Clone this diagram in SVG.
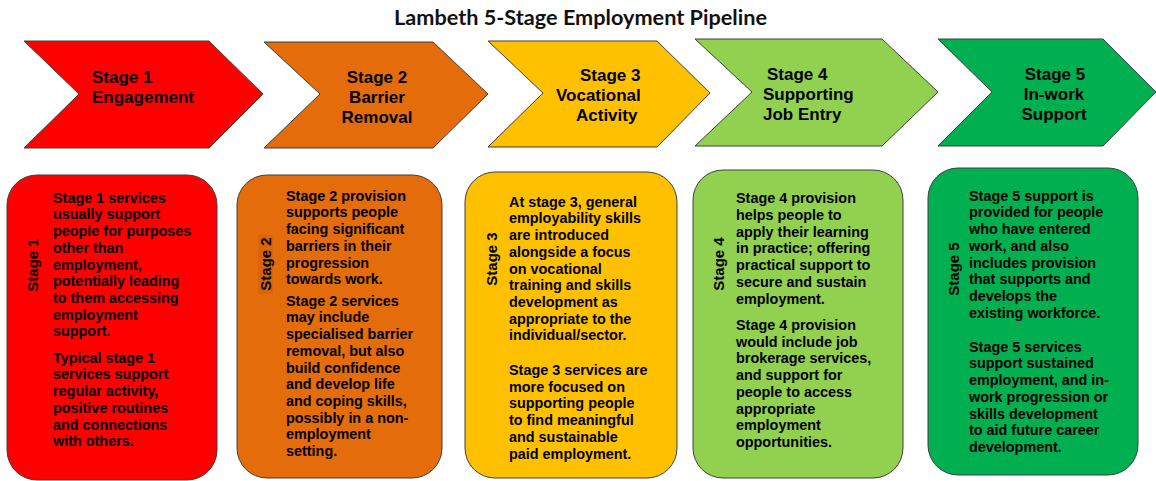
<svg xmlns="http://www.w3.org/2000/svg" width="1156" height="481" viewBox="0 0 1156 481">
  <style>
    .title { font-family: Lato, "Open Sans", "Liberation Sans", sans-serif; font-weight: 700; font-size: 20px; fill: #111; }
    .chev { stroke: #3f3f3f; stroke-width: 1; }
    .box { stroke: #3f3f3f; stroke-width: 1; }
    .head { font-family: "Liberation Sans", Arial, sans-serif; font-weight: 700; font-size: 17px; fill: #000; }
    .side { font-family: "Liberation Sans", Arial, sans-serif; font-weight: 700; font-size: 15px; fill: #000; }
    .body { font-family: "Liberation Sans", Arial, sans-serif; font-weight: 700; font-size: 14.4px; fill: #000; }
    .s1 { fill: #ff0000; }
    .s2 { fill: #e46c0a; }
    .s3 { fill: #ffc000; }
    .s4 { fill: #92d050; }
    .s5 { fill: #00b050; }
  </style>

  <text class="title" x="394" y="25" textLength="373" lengthAdjust="spacingAndGlyphs">Lambeth 5-Stage Employment Pipeline</text>

  <!-- pipeline chevrons -->
  <g id="chevron-1">
    <polygon class="chev s1" points="24,41 209,41 263,94 209,148 24,148 79,94"/>
    <text class="head" x="92" y="83">Stage 1</text>
    <text class="head" x="92" y="103">Engagement</text>
  </g>
  <g id="chevron-2">
    <polygon class="chev s2" points="264,42 433,42 488,94 433,148 264,148 320,94"/>
    <text class="head" x="377" y="83" text-anchor="middle">Stage 2</text>
    <text class="head" x="377" y="103" text-anchor="middle">Barrier</text>
    <text class="head" x="377" y="123" text-anchor="middle">Removal</text>
  </g>
  <g id="chevron-3">
    <polygon class="chev s3" points="488,41 657,41 710,93 657,147 488,147 543,93"/>
    <text class="head" x="580" y="81">Stage 3</text>
    <text class="head" x="556" y="101">Vocational</text>
    <text class="head" x="576" y="121">Activity</text>
  </g>
  <g id="chevron-4">
    <polygon class="chev s4" points="695,39 882,39 938,92 882,146 695,146 752,92"/>
    <text class="head" x="767" y="80">Stage 4</text>
    <text class="head" x="763" y="100">Supporting</text>
    <text class="head" x="763" y="120">Job Entry</text>
  </g>
  <g id="chevron-5">
    <polygon class="chev s5" points="938,39 1103,39 1156,92 1103,146 938,146 992,92"/>
    <text class="head" x="1055" y="80" text-anchor="middle">Stage 5</text>
    <text class="head" x="1054" y="100" text-anchor="middle">In-work</text>
    <text class="head" x="1054" y="120" text-anchor="middle">Support</text>
  </g>

  <!-- stage description cards -->
  <g id="card-1">
    <rect class="box s1" x="7" y="175" width="210" height="305" rx="30" ry="30"/>
    <text class="side" transform="translate(38,265) rotate(-90)" text-anchor="middle">Stage 1</text>
    <text class="body" x="53" y="202.7">
      <tspan x="53">Stage 1 services</tspan>
      <tspan x="53" dy="16.7">usually support</tspan>
      <tspan x="53" dy="16.7">people for purposes</tspan>
      <tspan x="53" dy="16.7">other than</tspan>
      <tspan x="53" dy="16.7">employment,</tspan>
      <tspan x="53" dy="16.7">potentially leading</tspan>
      <tspan x="53" dy="16.7">to them accessing</tspan>
      <tspan x="53" dy="16.7">employment</tspan>
      <tspan x="53" dy="16.7">support.</tspan>
    </text>
    <text class="body" x="53" y="362.7">
      <tspan x="53">Typical stage 1</tspan>
      <tspan x="53" dy="16.7">services support</tspan>
      <tspan x="53" dy="16.7">regular activity,</tspan>
      <tspan x="53" dy="16.7">positive routines</tspan>
      <tspan x="53" dy="16.7">and connections</tspan>
      <tspan x="53" dy="16.7">with others.</tspan>
    </text>
  </g>

  <g id="card-2">
    <rect class="box s2" x="237" y="175" width="205" height="303" rx="30" ry="30"/>
    <rect x="258" y="235" width="15" height="59" fill="#d9640a"/>
    <text class="side" transform="translate(271,264) rotate(-90)" text-anchor="middle">Stage 2</text>
    <text class="body" x="286" y="200.7">
      <tspan x="286">Stage 2 provision</tspan>
      <tspan x="286" dy="16.7">supports people</tspan>
      <tspan x="286" dy="16.7">facing significant</tspan>
      <tspan x="286" dy="16.7">barriers in their</tspan>
      <tspan x="286" dy="16.7">progression</tspan>
      <tspan x="286" dy="16.7">towards work.</tspan>
    </text>
    <text class="body" x="286" y="305.7">
      <tspan x="286">Stage 2 services</tspan>
      <tspan x="286" dy="16.7">may include</tspan>
      <tspan x="286" dy="16.7">specialised barrier</tspan>
      <tspan x="286" dy="16.7">removal, but also</tspan>
      <tspan x="286" dy="16.7">build confidence</tspan>
      <tspan x="286" dy="16.7">and develop life</tspan>
      <tspan x="286" dy="16.7">and coping skills,</tspan>
      <tspan x="286" dy="16.7">possibly in a non-</tspan>
      <tspan x="286" dy="16.7">employment</tspan>
      <tspan x="286" dy="16.7">setting.</tspan>
    </text>
  </g>

  <g id="card-3">
    <rect class="box s3" x="465" y="172" width="212" height="306" rx="30" ry="30"/>
    <text class="side" transform="translate(497,259) rotate(-90)" text-anchor="middle">Stage 3</text>
    <text class="body" x="509" y="206.7">
      <tspan x="509">At stage 3, general</tspan>
      <tspan x="509" dy="16.7">employability skills</tspan>
      <tspan x="509" dy="16.7">are introduced</tspan>
      <tspan x="509" dy="16.7">alongside a focus</tspan>
      <tspan x="509" dy="16.7">on vocational</tspan>
      <tspan x="509" dy="16.7">training and skills</tspan>
      <tspan x="509" dy="16.7">development as</tspan>
      <tspan x="509" dy="16.7">appropriate to the</tspan>
      <tspan x="509" dy="16.7">individual/sector.</tspan>
    </text>
    <text class="body" x="509" y="375">
      <tspan x="509">Stage 3 services are</tspan>
      <tspan x="509" dy="16.7">more focused on</tspan>
      <tspan x="509" dy="16.7">supporting people</tspan>
      <tspan x="509" dy="16.7">to find meaningful</tspan>
      <tspan x="509" dy="16.7">and sustainable</tspan>
      <tspan x="509" dy="16.7">paid employment.</tspan>
    </text>
  </g>

  <g id="card-4">
    <rect class="box s4" x="693" y="170" width="210" height="308" rx="30" ry="30"/>
    <text class="side" transform="translate(724,264) rotate(-90)" text-anchor="middle">Stage 4</text>
    <text class="body" x="736" y="203.3">
      <tspan x="736">Stage 4 provision</tspan>
      <tspan x="736" dy="16.7">helps people to</tspan>
      <tspan x="736" dy="16.7">apply their learning</tspan>
      <tspan x="736" dy="16.7">in practice; offering</tspan>
      <tspan x="736" dy="16.7">practical support to</tspan>
      <tspan x="736" dy="16.7">secure and sustain</tspan>
      <tspan x="736" dy="16.7">employment.</tspan>
    </text>
    <text class="body" x="736" y="330">
      <tspan x="736">Stage 4 provision</tspan>
      <tspan x="736" dy="16.7">would include job</tspan>
      <tspan x="736" dy="16.7">brokerage services,</tspan>
      <tspan x="736" dy="16.7">and support for</tspan>
      <tspan x="736" dy="16.7">people to access</tspan>
      <tspan x="736" dy="16.7">appropriate</tspan>
      <tspan x="736" dy="16.7">employment</tspan>
      <tspan x="736" dy="16.7">opportunities.</tspan>
    </text>
  </g>

  <g id="card-5">
    <rect class="box s5" x="928" y="168" width="210" height="307" rx="30" ry="30"/>
    <text class="side" transform="translate(959,269) rotate(-90)" text-anchor="middle">Stage 5</text>
    <text class="body" x="969" y="200.7">
      <tspan x="969">Stage 5 support is</tspan>
      <tspan x="969" dy="16.7">provided for people</tspan>
      <tspan x="969" dy="16.7">who have entered</tspan>
      <tspan x="969" dy="16.7">work, and also</tspan>
      <tspan x="969" dy="16.7">includes provision</tspan>
      <tspan x="969" dy="16.7">that supports and</tspan>
      <tspan x="969" dy="16.7">develops the</tspan>
      <tspan x="969" dy="16.7">existing workforce.</tspan>
    </text>
    <text class="body" x="969" y="351.7">
      <tspan x="969">Stage 5 services</tspan>
      <tspan x="969" dy="16.7">support sustained</tspan>
      <tspan x="969" dy="16.7">employment, and in-</tspan>
      <tspan x="969" dy="16.7">work progression or</tspan>
      <tspan x="969" dy="16.7">skills development</tspan>
      <tspan x="969" dy="16.7">to aid future career</tspan>
      <tspan x="969" dy="16.7">development.</tspan>
    </text>
  </g>
</svg>
